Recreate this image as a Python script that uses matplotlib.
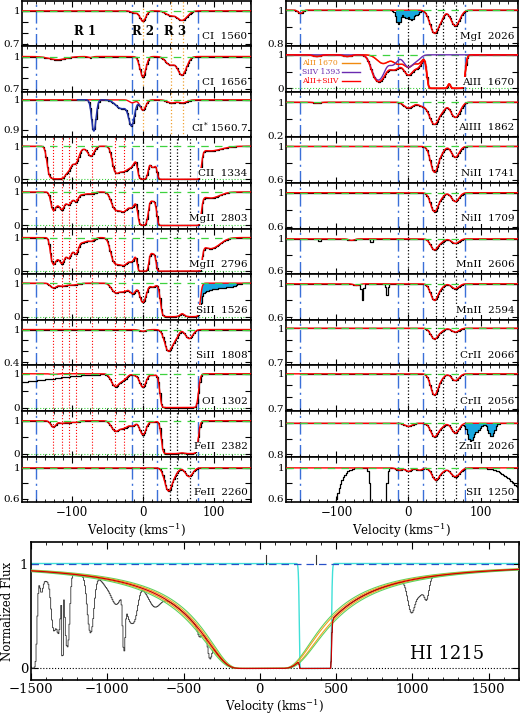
import numpy as np
import matplotlib
matplotlib.use('Agg')
import matplotlib.pyplot as plt
from matplotlib.ticker import MultipleLocator, FixedLocator, FuncFormatter

plt.rcParams['font.family'] = ['DejaVu Serif']
plt.rcParams['mathtext.fontset'] = 'dejavuserif'
plt.rcParams['xtick.direction'] = 'in'
plt.rcParams['ytick.direction'] = 'in'
plt.rcParams['xtick.top'] = True
plt.rcParams['ytick.right'] = True
plt.rcParams['axes.linewidth'] = 1.2

# ---- velocity markers (km/s) ----
region_edges = [-150, -15, 20, 78]
r3_lines = [0, 38, 48, 66]
r1_lines = [-126, -114, -104, -94, -72, -39, -27]
ci_lines = [0, 39, 56]
region_names = ['R 1', 'R 2', 'R 3']
region_label_v = [-82, 0, 45]

# ---- absorption components: (velocity, optical depth, width) ----
ci_1560 = [(-12, 0.02, 4), (0, 0.1, 4), (38, 0.04, 6), (55, 0.09, 7)]
ci_1656 = [(-120, 0.03, 12), (-74, 0.01, 3), (0, 0.21, 4), (38, 0.08, 6), (55, 0.19, 6)]
cistar_1560 = [(-15, 0.01, 4), (0, 0.035, 4), (40, 0.01, 6), (56, 0.01, 6)]
cistar_blend = [(-69, 0.11, 3), (-30, 0.03, 8), (-16, 0.075, 4)]
c2_1334 = [(-128, 3.0, 4), (-121, 3.0, 4), (-114, 3.0, 4), (-105, 1.2, 4), (-95, 0.7, 4),
           (-85, 0.08, 6), (-73, 0.35, 4), (-38, 1.3, 4), (-28, 1.4, 6), (-16, 0.8, 5),
           (0, 6.0, 4), (14, 1.0, 4), (28, 8.0, 4), (36, 10.0, 5), (46, 10.0, 5),
           (56, 10.0, 5), (66, 10.0, 5), (74, 6.0, 4), (95, 0.15, 15)]
mg2_2803 = [(-126, 0.75, 3), (-120, 0.35, 3), (-114, 0.65, 3), (-109, 0.2, 3), (-104, 0.4, 3),
            (-99, 0.12, 3), (-94, 0.28, 3), (-85, 0.08, 6), (-72, 0.05, 4), (-39, 0.65, 5),
            (-27, 0.85, 6), (-15, 0.5, 4), (0, 5.0, 4), (14, 0.3, 4), (28, 8.0, 4),
            (36, 10.0, 5), (46, 10.0, 5), (56, 10.0, 5), (66, 10.0, 5), (74, 6.0, 4),
            (95, 0.2, 12)]
mg2_2796 = [(v, 2 * t, s) for v, t, s in mg2_2803]
si2_1526 = [(-126, 0.15, 4), (-114, 0.08, 5), (-100, 0.06, 8), (-39, 0.3, 5), (-27, 0.28, 6),
            (-14, 0.35, 4), (0, 0.85, 4), (14, 0.12, 4), (32, 4.0, 4), (40, 6.0, 5),
            (48, 3.0, 4), (56, 1.2, 4), (66, 6.0, 5), (74, 4.0, 3.5)]
si2_blend = [(80, 0.5, 3), (88, 0.25, 7), (104, 0.15, 8), (122, 0.12, 8)]
si2_1808 = [(0, 0.03, 5), (36, 0.5, 5), (46, 0.15, 4), (65, 0.18, 5)]
o1_1302 = [(-126, 0.02, 4), (-39, 0.45, 5), (-28, 0.2, 5), (-10, 0.05, 4), (0, 0.5, 4),
           (14, 0.05, 4), (32, 6.0, 4), (40, 10.0, 5), (50, 10.0, 5), (60, 10.0, 5), (70, 6.0, 4)]
o1_blend = [(-200, 0.32, 60)]
fe2_2382 = [(-126, 0.22, 3.5), (-114, 0.08, 4), (-104, 0.06, 4), (-94, 0.05, 4), (-39, 0.35, 5),
            (-27, 0.25, 6), (-14, 0.15, 4), (0, 0.55, 4), (14, 0.05, 4), (34, 5.0, 4),
            (40, 8.0, 5), (48, 4.0, 4), (56, 2.5, 4), (64, 6.0, 4), (70, 5.0, 4)]
fe2_2260 = [(36, 0.35, 5), (46, 0.06, 4), (65, 0.12, 5)]

mg1_2026 = [(-150, 0.02, 3), (36, 0.15, 6), (46, 0.03, 4), (65, 0.1, 6)]
mg1_blend = [(-14, 0.09, 3), (-4, 0.05, 3), (4, 0.06, 3), (12, 0.03, 3)]
al2_1670 = [(-127, 0.05, 5), (-85, 0.05, 5), (-35, 0.3, 8), (-15, 0.3, 6), (0, 0.45, 6),
            (14, 0.28, 5), (34, 8.0, 4), (42, 8.0, 4), (49, 6.0, 3.5), (57, 0.8, 4),
            (64, 6.0, 3.5), (70, 8.0, 4)]
si4_1393 = [(-42, 1.4, 7), (-22, 0.35, 6), (0, 0.45, 6), (12, 0.15, 5)]
al3_1862 = [(-127, 0.02, 5), (0, 0.15, 6), (20, 0.1, 6), (36, 0.75, 6), (48, 0.15, 4), (65, 0.45, 6)]
ni2_1741 = [(36, 0.37, 5), (46, 0.06, 4), (65, 0.14, 5)]
ni2_1709 = [(36, 0.25, 5), (46, 0.04, 4), (65, 0.11, 5)]
mn2_2606 = [(-79, 0.02, 4), (36, 0.15, 5), (46, 0.03, 4), (65, 0.06, 5)]
mn2_2606_blend = [(-123, 0.04, 1.5), (-51, 0.05, 1.5)]
mn2_2594 = [(-72, 0.02, 4), (36, 0.22, 5), (46, 0.03, 4), (65, 0.06, 5)]
mn2_2594_blend = [(-64, 0.22, 1.2), (-30, 0.14, 1.2)]
cr2_2066 = [(36, 0.1, 5), (46, 0.02, 4), (65, 0.035, 5)]
cr2_2056 = [(36, 0.2, 5), (46, 0.03, 4), (65, 0.06, 5)]
zn2_2026 = [(0, 0.02, 5), (36, 0.09, 5), (46, 0.02, 4), (65, 0.065, 5)]
zn2_blend = [(86, 0.12, 4), (96, 0.05, 4), (115, 0.09, 4)]
s2_1250 = [(-13, 0.03, 4), (0, 0.045, 4), (15, 0.03, 4), (38, 0.17, 5), (48, 0.03, 4), (65, 0.12, 6)]
s2_blend = [(-140, 6.0, 18), (-42, 20.0, 4), (170, 0.4, 22)]

# panel lists: label, model, blend, y-limits, y-ticks
left_labels = ['CI  1560', 'CI  1656', r'CI$^{*}$ 1560.7', 'CII  1334', 'MgII  2803', 'MgII  2796',
               'SiII  1526', 'SiII  1808', 'OI  1302', 'FeII  2382', 'FeII  2260']
left_models = [ci_1560, ci_1656, cistar_1560, c2_1334, mg2_2803, mg2_2796,
               si2_1526, si2_1808, o1_1302, fe2_2382, fe2_2260]
left_blends = [[], [], cistar_blend, [], [], [], si2_blend, [], o1_blend, [], []]
left_ylims = [(0.679, 1.094), (0.672, 1.097), (0.875, 1.027), (-0.11, 1.27), (-0.09, 1.27),
              (-0.09, 1.27), (-0.09, 1.27), (0.345, 1.18), (-0.1, 1.25), (-0.09, 1.3), (0.56, 1.146)]
left_yticks = [[0.7, 0.8, 0.9, 1], [0.7, 0.8, 0.9, 1], [0.9, 1], [0, 0.5, 1], [0, 0.5, 1],
               [0, 0.5, 1], [0, 0.5, 1], [0.4, 0.6, 0.8, 1], [0, 0.5, 1], [0, 0.5, 1], [0.6, 0.8, 1]]

right_labels = ['MgI  2026', 'AlII  1670', 'AlIII  1862', 'NiII  1741', 'NiII  1709', 'MnII  2606',
                'MnII  2594', 'CrII  2066', 'CrII  2056', 'ZnII  2026', 'SII  1250']
right_models = [mg1_2026, al2_1670, al3_1862, ni2_1741, ni2_1709, mn2_2606,
                mn2_2594, cr2_2066, cr2_2056, zn2_2026, s2_1250]
right_blends = [mg1_blend, si4_1393, [], [], [], mn2_2606_blend, mn2_2594_blend, [], [], zn2_blend, s2_blend]
right_ylims = [(0.782, 1.058), (-0.1, 1.26), (0.16, 1.25), (0.56, 1.11), (0.58, 1.115), (0.555, 1.13),
               (0.57, 1.116), (0.673, 1.075), (0.682, 1.073), (0.787, 1.079), (0.56, 1.146)]
right_yticks = [[0.8, 0.9, 1], [0, 0.5, 1], [0.2, 0.6, 1], [0.6, 0.8, 1], [0.6, 0.8, 1], [0.6, 0.8, 1],
                [0.6, 0.8, 1], [0.7, 0.8, 0.9, 1], [0.7, 0.8, 0.9, 1], [0.8, 0.9, 1], [0.6, 0.8, 1]]

# cyan-filled blends (panel label -> velocity window)
fill_windows = {'MgI  2026': (-19, 23), 'SiII  1526': (78, 140), 'ZnII  2026': (78, 128)}
legend_text = ['AlII 1670', 'SiIV 1393', 'AlII+SiIV']

# ---- HI 1215 panel ----
hi_center = 10
hi_wing = [381, 393, 405, 417, 429]          # damping widths (km/s): fit and its envelopes
hi_wing_colors = ['#5fd35f', '#f0a020', 'red', '#f0a020', '#5fd35f']
hi_narrow = [(290, 100.0, 10), (340, 100.0, 10), (390, 100.0, 10), (440, 100.0, 10)]
hi_forest = [(-1488, 6.0, 14), (-1432, 0.2, 10), (-1400, 0.1, 25), (-1350, 0.9, 15), (-1318, 0.9, 12),
             (-1293, 3.0, 3), (-1262, 1.5, 12), (-1109, 0.95, 18), (-1000, 0.08, 30),
             (-940, 0.3, 30), (-890, 1.4, 7), (-850, 0.55, 25), (-815, 0.3, 18), (-690, 0.2, 35),
             (-395, 0.2, 12), (-326, 0.95, 10), (995, 0.45, 22), (1050, 0.2, 25), (1095, 0.25, 15)]
hi_marks = [39, 367]

blue = '#3a6fd8'
green = '#3fd23f'
cyan = '#18a8e0'


def tau_of(v, comps):
    tau = np.zeros_like(v, dtype=float)
    for vc, t, s in comps:
        tau += t * np.exp(-0.5 * ((v - vc) / s) ** 2)
    return tau


def flux(v, *comp_lists):
    tau = np.zeros_like(v, dtype=float)
    for c in comp_lists:
        tau += tau_of(v, c)
    return np.exp(-tau)


def tick_fmt(val, pos, ends):
    if val not in ends:
        return ''
    return '%g' % val


W, H = 520, 717
fig = plt.figure(figsize=(W / 100, H / 100), dpi=100)


def px_axes(x0, x1, y0, y1):
    return fig.add_axes([x0 / W, 1 - y1 / H, (x1 - x0) / W, (y1 - y0) / H])


v_fine = np.linspace(-170, 152, 1400)
v_pix = np.arange(-170, 153, 2.0)
step_h = 45.6


def draw_column(x0, x1, labels, models, blends, ylims, yticks, is_left):
    n = len(labels)
    for i in range(n):
        ax = px_axes(x0, x1, 0.5 + i * step_h, 0.5 + (i + 1) * step_h)
        label, model, blend = labels[i], models[i], blends[i]
        ax.set_xlim(-170, 152)
        ax.set_ylim(*ylims[i])

        for x in region_edges:
            ax.axvline(x, color=blue, ls=(0, (9, 3, 1.5, 3)), lw=1.0, zorder=1)
        if is_left and i < 3:
            for x in ci_lines:
                ax.axvline(x, color='#f0a030', ls=':', lw=0.9, zorder=1)
        else:
            for x in r3_lines:
                ax.axvline(x, color='k', ls=':', lw=0.9, zorder=1)
        if is_left and 3 <= i <= 9:
            for x in r1_lines:
                ax.axvline(x, color='red', ls=':', lw=0.8, zorder=1)

        black = flux(v_pix, model, blend)
        vb = v_pix
        if label == 'CrII  2056':
            keep = v_pix >= -150
            vb, black = v_pix[keep], black[keep]
        ax.plot(vb, black, drawstyle='steps-mid', color='k', lw=0.9, zorder=2)

        if label in fill_windows:
            lo, hi = fill_windows[label]
            red_pix = flux(v_pix, model)
            win = (v_pix >= lo) & (v_pix <= hi)
            ax.fill_between(v_pix, flux(v_pix, model, blend), red_pix, where=win,
                            color=cyan, step='mid', lw=0, zorder=1.8)

        ax.plot(v_fine, flux(v_fine, model), color='red', lw=1.0, zorder=3)
        ax.axhline(1, color=green, ls=(0, (6, 5)), lw=0.9, zorder=3.5)
        if ylims[i][0] < 0.05:
            ax.axhline(0, color=green, ls=':', lw=0.8, zorder=1)

        if label.startswith('CI$'):
            win = (v_fine >= -92) & (v_fine <= -4)
            ax.plot(v_fine[win], flux(v_fine[win], model, blend), color='#2233aa', lw=1.1, zorder=3.6)

        if label == 'AlII  1670':
            ax.plot(v_fine, flux(v_fine, model), color='#f08a10', lw=1.0, zorder=2.6)
            ax.plot(v_fine, flux(v_fine, blend), color='#6a2bb0', lw=1.0, zorder=3.7)
            ax.plot(v_fine, flux(v_fine, model, blend), color='red', lw=1.1, zorder=3.8)
            for k, (txt, col) in enumerate(zip(legend_text, ['#f08a10', '#6a2bb0', 'red'])):
                yy = 0.625 - k * 0.2
                ax.text(0.07, yy, txt, transform=ax.transAxes, color=col, fontsize=5.5,
                        va='center', ha='left', zorder=6)
                ax.plot([0.24, 0.32], [yy, yy], transform=ax.transAxes, color=col, lw=1.0, zorder=6)

        if is_left and i == 0:
            for name, vx in zip(region_names, region_label_v):
                ax.text(vx, 0.81, name, fontsize=8.5, ha='center', va='center',
                        fontweight='bold', zorder=6)

        ax.text(0.985, 0.21, label, transform=ax.transAxes, ha='right', va='center', fontsize=7.5,
                zorder=6, bbox=dict(fc='white', ec='none', pad=0.4))

        ax.xaxis.set_major_locator(MultipleLocator(100))
        ax.xaxis.set_minor_locator(MultipleLocator(12.5))
        ax.yaxis.set_major_locator(FixedLocator(yticks[i]))
        ends = (yticks[i][0], yticks[i][-1])
        ax.yaxis.set_major_formatter(FuncFormatter(lambda val, pos, e=ends: tick_fmt(val, pos, e)))
        ax.tick_params(which='major', length=4, width=0.8, labelsize=7.5, pad=2)
        ax.tick_params(which='minor', length=2, width=0.6)
        ax.tick_params(axis='y', pad=1.5)
        ax.tick_params(axis='x', labelsize=8.5, pad=3)
        if i < n - 1:
            ax.tick_params(axis='x', labelbottom=False)
    fig.text((x0 + x1) / 2 / W, 1 - 531 / H, 'Velocity (kms$^{-1}$)', ha='center', va='center',
             fontsize=8.5)


draw_column(22, 251, left_labels, left_models, left_blends, left_ylims, left_yticks, True)
draw_column(286, 518, right_labels, right_models, right_blends, right_ylims, right_yticks, False)

# ---- bottom HI panel ----
ax = px_axes(31, 519, 542, 680)
vh = np.linspace(-1500, 1700, 3200)
vh_pix = np.arange(-1500, 1701, 6.0)


def dla(v, wing):
    return np.exp(-(wing / np.maximum(np.abs(v - hi_center), 1.0)) ** 2)


black_h = dla(vh_pix, hi_wing[2]) * flux(vh_pix, hi_narrow, hi_forest)
ax.axhline(0, color='k', ls=':', lw=0.8, zorder=1)
ax.plot(vh_pix, black_h, drawstyle='steps-mid', color='#333333', lw=0.6, zorder=2)
ax.plot(vh, flux(vh, hi_narrow), color='#40e0d8', lw=1.0, zorder=1.5)
ax.axhline(1, color='#2850c8', ls=(0, (6, 4)), lw=0.9, zorder=1.6)
for wing, col in zip(hi_wing, hi_wing_colors):
    if col == 'red':
        continue
    ax.plot(vh, dla(vh, wing), color=col, lw=0.8, zorder=3)
ax.plot(vh, dla(vh, hi_wing[2]) * flux(vh, hi_narrow), color='#cc0000', lw=0.9, zorder=3.5)
for m in hi_marks:
    ax.plot([m, m], [1.0, 1.08], color='#333333', lw=0.8, zorder=4)
ax.text(1225, 0.14, 'HI 1215', fontsize=13, ha='center', va='center')
ax.set_xlim(-1500, 1700)
ax.set_ylim(-0.11, 1.205)
ax.xaxis.set_major_locator(MultipleLocator(500))
ax.xaxis.set_minor_locator(MultipleLocator(100))
ax.yaxis.set_major_locator(FixedLocator([0, 1]))
ax.yaxis.set_major_formatter(FuncFormatter(lambda val, pos: '%g' % val))
ax.tick_params(which='major', length=5, width=0.8, labelsize=9.5, pad=2)
ax.tick_params(which='minor', length=2.5, width=0.6)
ax.set_xlabel('Velocity (kms$^{-1}$)', fontsize=8.5, labelpad=1)
ax.set_ylabel('Normalized Flux', fontsize=8.5, labelpad=4)

fig.savefig('out.png', dpi=100)
